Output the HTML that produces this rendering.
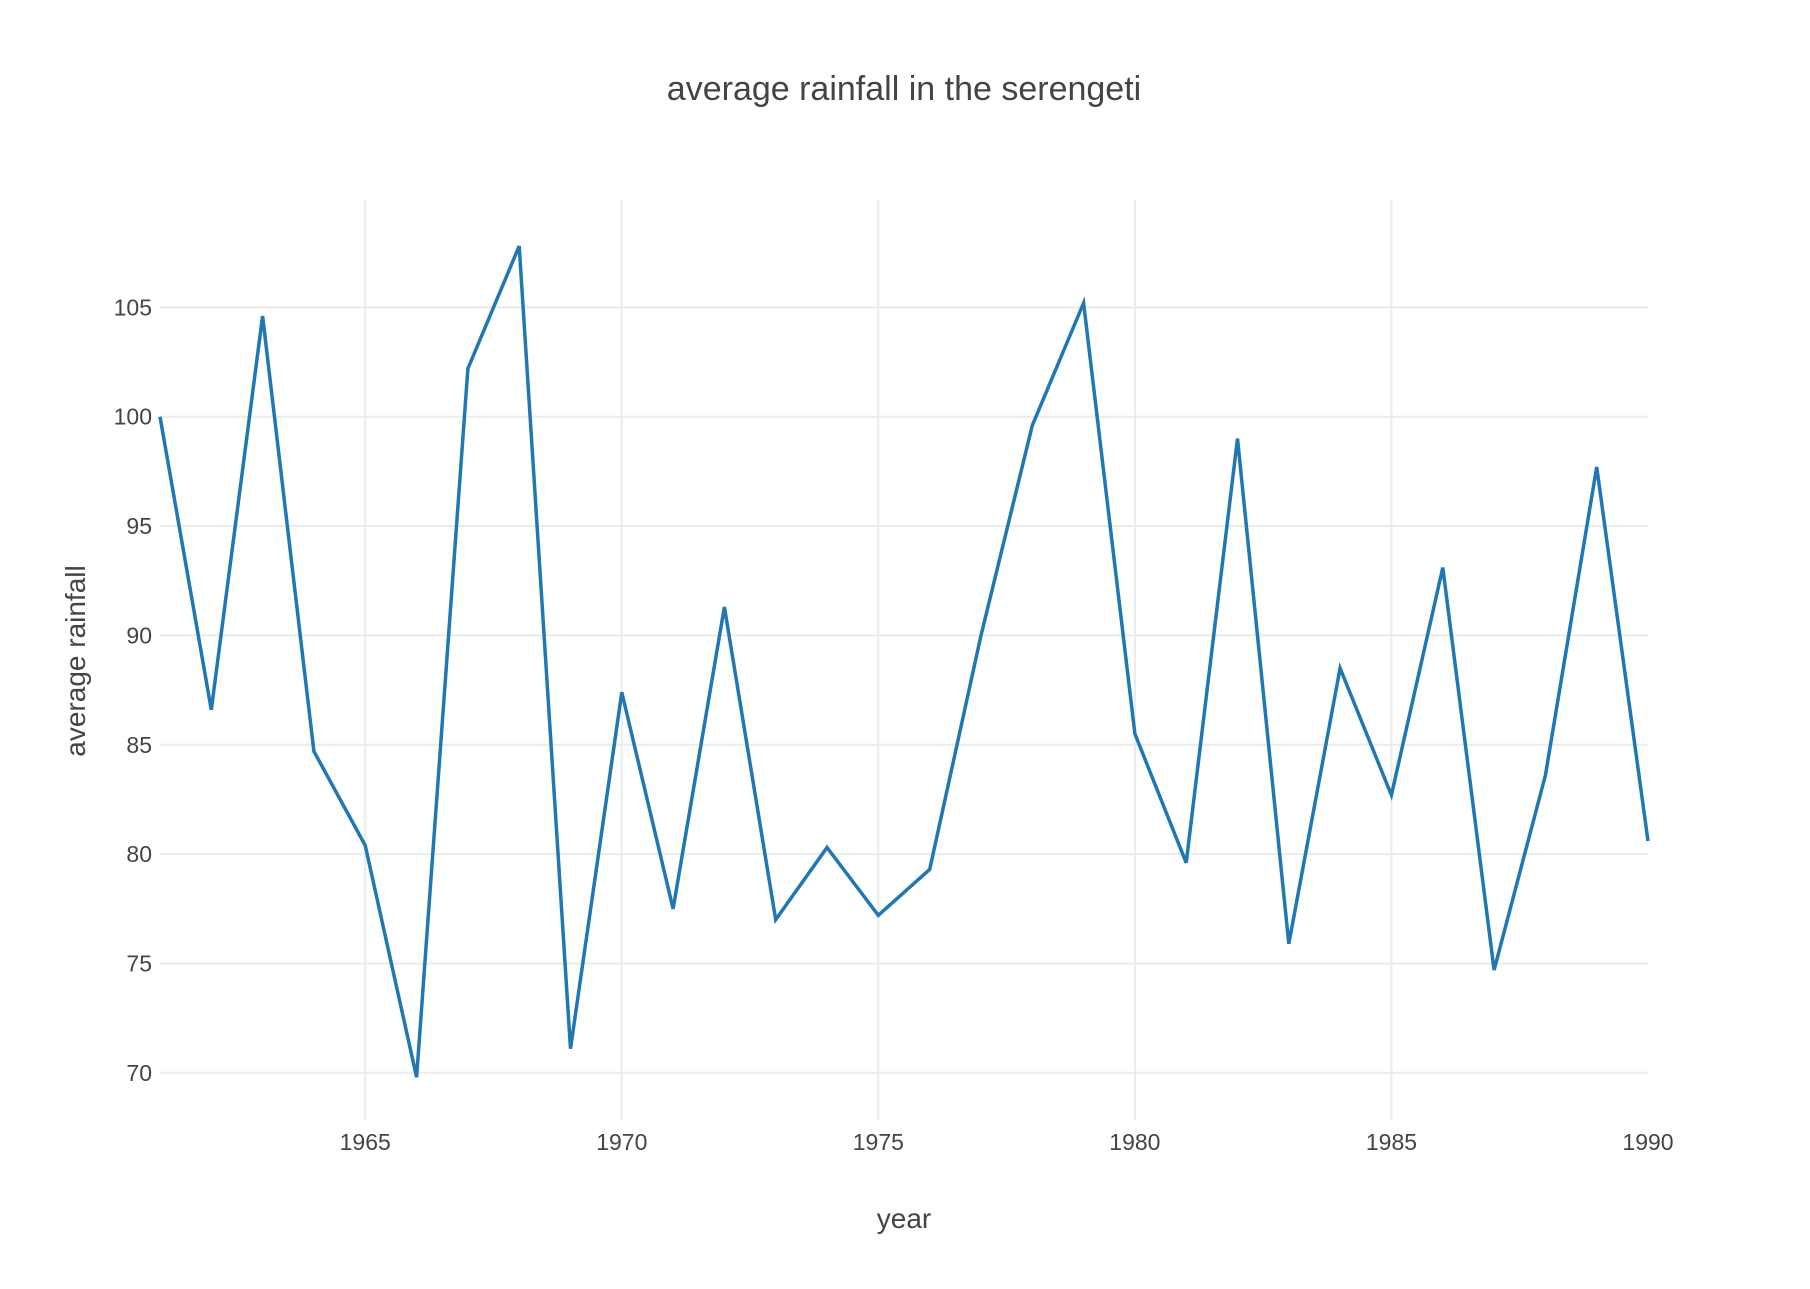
<!DOCTYPE html>
<html><head><meta charset="utf-8"><style>
html,body{margin:0;padding:0;background:#fff;}
svg text{font-family:"Liberation Sans","DejaVu Sans",sans-serif;fill:#444;}
</style></head><body>
<svg id="chart" width="1810" height="1284" viewBox="0 0 1810 1284" xmlns="http://www.w3.org/2000/svg">
<text x="904" y="100" text-anchor="middle" font-size="34">average rainfall in the serengeti</text>
<g id="grid"></g>
<g id="ticks"></g>
<text x="904" y="1228" text-anchor="middle" font-size="28">year</text>
<text transform="translate(85,661) rotate(-90)" text-anchor="middle" font-size="28">average rainfall</text>
<g id="series"></g>
</svg>
<script>
const years = [1961,1962,1963,1964,1965,1966,1967,1968,1969,1970,1971,1972,1973,1974,1975,1976,1977,1978,1979,1980,1981,1982,1983,1984,1985,1986,1987,1988,1989,1990];
const rainfall = [100,86.6,104.6,84.7,80.4,69.8,102.2,107.8,71.1,87.4,77.5,91.3,77.0,80.3,77.2,79.3,90,99.6,105.2,85.5,79.6,99.0,75.9,88.5,82.7,93.1,74.7,83.6,97.7,80.6];
const xTicks = [1965,1970,1975,1980,1985,1990];
const yTicks = [70,75,80,85,90,95,100,105];

const NS = "http://www.w3.org/2000/svg";
const L = 160, R = 1648, T = 200, B = 1120;
function xs(v){ return L + (v - 1961) / (1990 - 1961) * (R - L); }
function ys(v){ return 416.7 - (v - 100) * 21.87; }
const grid = document.getElementById('grid'), ticks = document.getElementById('ticks'), series = document.getElementById('series');
function mk(tag, attrs, parent){ const e = document.createElementNS(NS, tag); for (const k in attrs) e.setAttribute(k, attrs[k]); parent.appendChild(e); return e; }

yTicks.forEach(v => {
  const ln = mk('line', {x1:L, x2:R, y1:ys(v), y2:ys(v), stroke:'#ebebeb', 'stroke-width':2}, grid);
  
  
  const t = mk('text', {x:L-8, y:ys(v)+8, 'text-anchor':'end', 'font-size':23}, ticks);
  t.textContent = v;
  
  
});
xTicks.forEach(v => {
  if (xs(v) < R - 1) {
    const ln = mk('line', {x1:xs(v), x2:xs(v), y1:T, y2:B, stroke:'#ebebeb', 'stroke-width':2}, grid);
    
    
  }
  const t = mk('text', {x:xs(v), y:1150, 'text-anchor':'middle', 'font-size':23}, ticks);
  t.textContent = v;
  
  
});
const pts = years.map((y,i) => xs(y).toFixed(1) + ',' + ys(rainfall[i]).toFixed(1)).join(' ');
const pl = mk('polyline', {points:pts, fill:'none', stroke:'#1f77b4', 'stroke-width':3.5, 'stroke-linejoin':'miter'}, series);


</script>
</body></html>
